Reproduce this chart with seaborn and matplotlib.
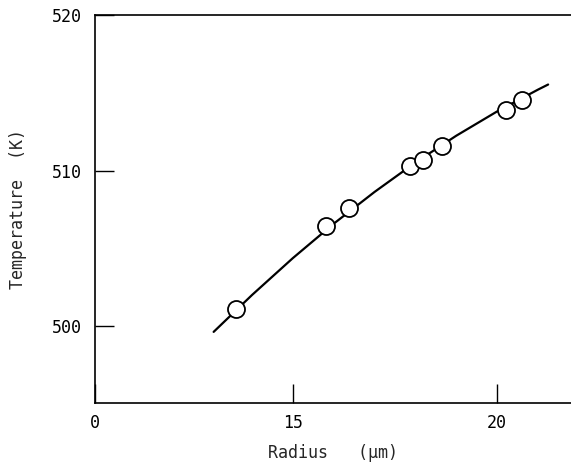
import matplotlib
matplotlib.use("Agg")
import matplotlib.pyplot as plt
import seaborn as sns
import pandas as pd

# measured data points
radius_um = [13.60, 15.80, 16.37, 17.87, 18.19, 18.66, 20.21, 20.60]
temperature_k = [501.08, 506.41, 507.57, 510.28, 510.69, 511.57, 513.87, 514.52]

# fitted curve
curve_radius = [13.06, 14.0, 15.0, 16.0, 17.0, 18.0, 19.0, 20.0, 21.0, 21.25]
curve_temp = [499.64, 502.01, 504.38, 506.59, 508.63, 510.52, 512.24, 513.80, 515.20, 515.53]

x_ticks = [10.15, 15, 20]
x_tick_labels = ["0", "15", "20"]
y_ticks = [500, 510, 520]
y_tick_labels = ["500", "510", "520"]

sns.set_style("ticks")
plt.rcParams["font.family"] = ["DejaVu Sans Mono", "DejaVu Sans"]

fig = plt.figure(figsize=(5.71, 4.67), dpi=100)
ax = fig.add_axes([0.166, 0.138, 0.834, 0.83])

pts = pd.DataFrame({"r": radius_um, "t": temperature_k})
cur = pd.DataFrame({"r": curve_radius, "t": curve_temp})

sns.lineplot(data=cur, x="r", y="t", ax=ax, color="black", linewidth=1.6,
             sort=False, estimator=None, zorder=2)
sns.scatterplot(data=pts, x="r", y="t", ax=ax, s=150, facecolor="white",
                edgecolor="black", linewidth=1.3, zorder=3)

ax.set_xlim(10.15, 21.81)
ax.set_ylim(495.1, 520)
ax.set_xticks(x_ticks)
ax.set_xticklabels(x_tick_labels)
ax.set_yticks(y_ticks)
ax.set_yticklabels(y_tick_labels)
ax.tick_params(direction="in", length=14, width=1, labelsize=12, colors="black")
ax.tick_params(axis="y", pad=9)
ax.tick_params(axis="x", pad=8)

for side in ["left", "bottom", "top"]:
    ax.spines[side].set_visible(True)
    ax.spines[side].set_color("black")
    ax.spines[side].set_linewidth(1.2)
ax.spines["right"].set_visible(False)

ax.set_xlabel("Radius   (\u00b5m)", fontsize=12, labelpad=9)
ax.set_ylabel("Temperature  (K)", fontsize=12, labelpad=18)

fig.savefig("out.png", dpi=100)
